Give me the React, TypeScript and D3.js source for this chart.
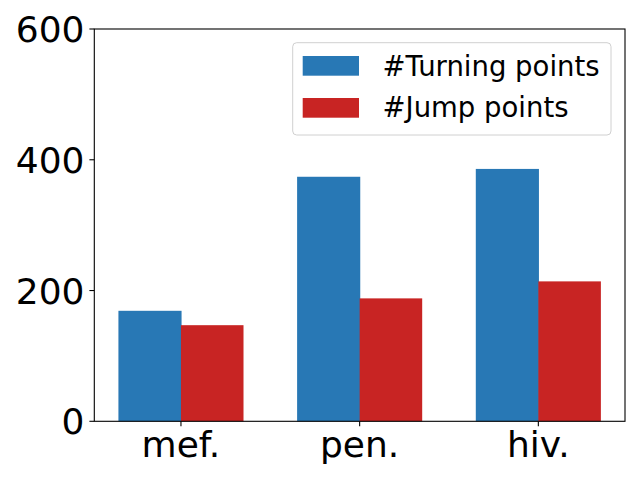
import React from "react";
import * as d3 from "d3";

const categories = ["mef.", "pen.", "hiv."];
const turningPoints = [169, 374, 386];
const jumpPoints = [147, 188, 214];
const yTicks = [0, 200, 400, 600];
const seriesNames = ["#Turning points", "#Jump points"];
const colors = ["#2878B5", "#C82423"];

const W = 640;
const H = 480;
const left = 94.3;
const right = 625;
const top = 29;
const bottom = 421.3;
const barW = 0.35;

export default function App() {
  const x = d3.scaleLinear().domain([-0.485, 2.485]).range([left, right]);
  const y = d3.scaleLinear().domain([0, 600]).range([bottom, top]);
  const font = "DejaVu Sans, sans-serif";
  const series = [turningPoints, jumpPoints];
  return (
    <svg width={W} height={H} style={{ position: "absolute", left: 0, top: 0 }}>
      <rect x={0} y={0} width={W} height={H} fill="#fff" />
      {series.map((vals, si) =>
        vals.map((v, i) => {
          const x0 = si === 0 ? x(i - barW) : x(i);
          const x1 = si === 0 ? x(i) + 0.6 : x(i + barW);
          return (
            <rect
              key={`${si}-${i}`}
              x={x0}
              y={y(v)}
              width={x1 - x0}
              height={y(0) - y(v)}
              fill={colors[si]}
            />
          );
        })
      )}
      <rect
        x={left}
        y={top}
        width={right - left}
        height={bottom - top}
        fill="none"
        stroke="#000"
        strokeWidth={1.1}
      />
      {yTicks.map((t) => (
        <g key={t}>
          <line x1={left - 4.9} x2={left} y1={y(t)} y2={y(t)} stroke="#000" strokeWidth={1.1} />
          <text
            x={84.5}
            y={y(t) + 13}
            textAnchor="end"
            fontFamily={font}
            fontSize={36}
            fill="#000"
          >
            {t}
          </text>
        </g>
      ))}
      {categories.map((c, i) => (
        <g key={c}>
          <line x1={x(i)} x2={x(i)} y1={bottom} y2={bottom + 4.9} stroke="#000" strokeWidth={1.1} />
          <text
            x={x(i)}
            y={457}
            textAnchor="middle"
            fontFamily={font}
            fontSize={36}
            fill="#000"
          >
            {c}
          </text>
        </g>
      ))}
      <g>
        <rect
          x={292.7}
          y={42.7}
          width={611 - 292.7}
          height={135 - 42.7}
          rx={4}
          ry={4}
          fill="#fff"
          fillOpacity={0.8}
          stroke="#d0d0d0"
          strokeWidth={1}
        />
        {seriesNames.map((n, i) => (
          <g key={n}>
            <rect
              x={302.7}
              y={56 + i * 42}
              width={56.3}
              height={19.7}
              fill={colors[i]}
            />
            <text
              x={382.5}
              y={75.7 + i * 41}
              fontFamily={font}
              fontSize={27.5}
              fill="#000"
            >
              {n}
            </text>
          </g>
        ))}
      </g>
    </svg>
  );
}
